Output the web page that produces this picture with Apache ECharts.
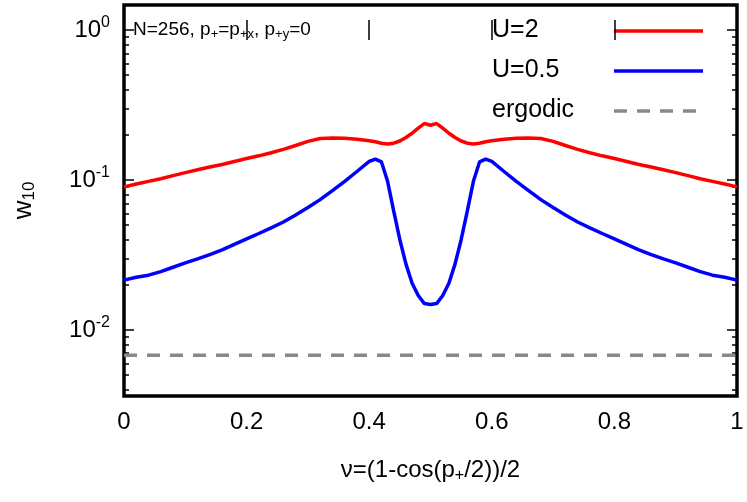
<!DOCTYPE html>
<html><head><meta charset="utf-8">
<script src="https://cdn.jsdelivr.net/npm/echarts@6/dist/echarts.min.js"></script>
<style>html,body{margin:0;padding:0;background:#fff}#c{width:747px;height:502px}</style>
</head><body><div id="c"></div>
<script>
const xs = [0,0.02,0.04,0.06,0.08,0.1,0.12,0.14,0.16,0.18,0.2,0.22,0.24,0.26,0.28,0.3,0.32,0.34,0.36,0.38,0.4,0.41,0.42,0.43,0.44,0.45,0.46,0.47,0.48,0.49,0.5,0.51,0.52,0.53,0.54,0.55,0.56,0.57,0.58,0.59,0.6,0.62,0.64,0.66,0.68,0.7,0.72,0.74,0.76,0.78,0.8,0.82,0.84,0.86,0.88,0.9,0.92,0.94,0.96,0.98,1];
const u2 = [0.090,0.094,0.098,0.102,0.107,0.112,0.117,0.122,0.127,0.133,0.139,0.145,0.152,0.160,0.170,0.181,0.189,0.191,0.190,0.187,0.183,0.180,0.176,0.174,0.176,0.182,0.192,0.205,0.222,0.238,0.232,0.238,0.222,0.205,0.192,0.182,0.176,0.174,0.176,0.180,0.183,0.187,0.190,0.191,0.189,0.181,0.170,0.160,0.152,0.145,0.139,0.133,0.127,0.122,0.117,0.112,0.107,0.102,0.098,0.094,0.090];
const u05 = [0.0215,0.0225,0.0232,0.0245,0.0262,0.0280,0.0298,0.0318,0.0342,0.0372,0.0405,0.0440,0.0480,0.0525,0.0585,0.0655,0.0740,0.0850,0.0980,0.1140,0.1330,0.1380,0.1320,0.0980,0.0620,0.0400,0.0275,0.0205,0.0170,0.0150,0.0148,0.0150,0.0170,0.0205,0.0275,0.0400,0.0620,0.0980,0.1320,0.1380,0.1330,0.1140,0.0980,0.0850,0.0740,0.0655,0.0585,0.0525,0.0480,0.0440,0.0405,0.0372,0.0342,0.0318,0.0298,0.0280,0.0262,0.0245,0.0232,0.0225,0.0215];
const ergodic = 0.0068;
const xTicks = [0,0.2,0.4,0.6,0.8,1];
const yMajor = [-2,-1,0];
const yMinor = [];
for (let d=-3; d<=0; d++) for (let k=2;k<=9;k++){ const v=d+Math.log10(k); if (v>-2.44 && v<0.167) yMinor.push(v); }

const L = v => Math.log10(v);
const F = 'Liberation Sans, Arial, sans-serif';
const tickStyle = {color:'#000',width:1.5};
const yBase = {type:'value',min:-2.44,max:0.167,axisLine:{show:false},splitLine:{show:false}};
const chart = echarts.init(document.getElementById('c'));
chart.setOption({
  animation:false,
  grid:{left:124,right:10,top:5,bottom:106,show:true,borderColor:'#000',borderWidth:3.5,backgroundColor:'transparent'},
  xAxis:[{type:'value',min:0,max:1,position:'bottom',
    axisLine:{show:false},splitLine:{show:false},
    axisTick:{inside:true,length:10,customValues:xTicks,lineStyle:tickStyle},
    axisLabel:{customValues:xTicks,fontFamily:F,fontSize:24,color:'#000',margin:14,formatter:v=>String(v)},
    name:'{a|ν=(1-cos(p}{s|+}{a|/2))/2}',nameLocation:'middle',nameGap:60,
    nameTextStyle:{rich:{a:{fontFamily:F,fontSize:24,color:'#000'},s:{fontFamily:F,fontSize:16,color:'#000',padding:[12,0,0,0]}}}},
   {type:'value',min:0,max:1,position:'top',axisLine:{show:false},splitLine:{show:false},axisLabel:{show:false},
    axisTick:{inside:true,length:10,customValues:xTicks,lineStyle:tickStyle}}],
  yAxis:[Object.assign({},yBase,{position:'left',
    axisTick:{inside:true,length:10,customValues:yMajor,lineStyle:tickStyle},
    axisLabel:{customValues:yMajor,margin:14,formatter:v=>'{a|10}{s|'+Math.round(v)+'}',
      rich:{a:{fontFamily:F,fontSize:24,color:'#000'},s:{fontFamily:F,fontSize:16,color:'#000',padding:[0,0,14,0]}}},
    name:'{a|w}{s|10}',nameLocation:'middle',nameGap:86,nameRotate:90,
    nameTextStyle:{rich:{a:{fontFamily:F,fontSize:26,color:'#000'},s:{fontFamily:F,fontSize:17,color:'#000',padding:[12,0,0,0]}}}}),
   Object.assign({},yBase,{position:'left',axisLabel:{show:false},
    axisTick:{inside:true,length:5,customValues:yMinor,lineStyle:tickStyle}}),
   Object.assign({},yBase,{position:'right',axisLabel:{show:false},
    axisTick:{inside:true,length:10,customValues:yMajor,lineStyle:tickStyle}}),
   Object.assign({},yBase,{position:'right',axisLabel:{show:false},
    axisTick:{inside:true,length:5,customValues:yMinor,lineStyle:tickStyle}})],
  series:[
    {type:'line',data:xs.map((x,i)=>[x,L(u2[i])]),showSymbol:false,lineStyle:{color:'#f00',width:3.5}},
    {type:'line',data:xs.map((x,i)=>[x,L(u05[i])]),showSymbol:false,lineStyle:{color:'#00f',width:3.5}},
    {type:'line',data:[[0,L(ergodic)],[1,L(ergodic)]],showSymbol:false,lineStyle:{color:'#888',width:3.5,type:[13,10]}}
  ],
  graphic:[
    {type:'text',left:133,top:20,style:{rich:{a:{fontFamily:F,fontSize:19,fill:'#000'},s:{fontFamily:F,fontSize:13,fill:'#000',padding:[9,0,0,0]}},
      text:'{a|N=256, p}{s|+}{a|=p}{s|+x}{a|, p}{s|+y}{a|=0}'}},
    {type:'text',left:492,top:18,style:{text:'U=2',fontFamily:F,fontSize:25,fill:'#000'}},
    {type:'text',left:492,top:58,style:{text:'U=0.5',fontFamily:F,fontSize:25,fill:'#000'}},
    {type:'text',left:492,top:98,style:{text:'ergodic',fontFamily:F,fontSize:25,fill:'#000'}},
    {type:'line',shape:{x1:614,y1:31,x2:703,y2:31},style:{stroke:'#f00',lineWidth:3.5}},
    {type:'line',shape:{x1:614,y1:71,x2:703,y2:71},style:{stroke:'#00f',lineWidth:3.5}},
    {type:'line',shape:{x1:614,y1:111,x2:703,y2:111},style:{stroke:'#888',lineWidth:3.5,lineDash:[13,10]}}
  ]
});
</script></body></html>
